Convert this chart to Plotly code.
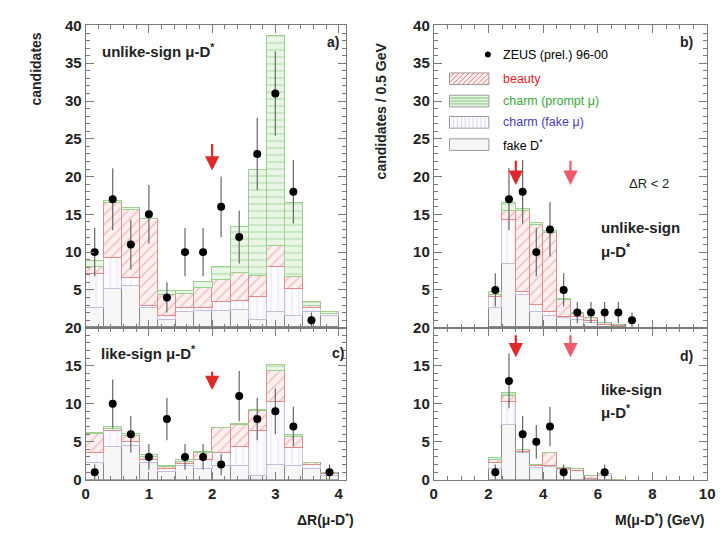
import plotly.graph_objects as go

W, H = 726, 542

# ---------------- data ----------------
# Delta R bins (width pi/11)
dr_centers = [0.143, 0.428, 0.714, 1.000, 1.285, 1.571, 1.857, 2.142, 2.428, 2.713, 2.999, 3.284, 3.570, 3.855]
dr_width = 0.2856
# M(mu-D*) bins (0.5 GeV)
m_centers = [2.25, 2.75, 3.25, 3.75, 4.25, 4.75, 5.25, 5.75, 6.25, 6.75]
m_width = 0.5

# panel a) unlike-sign, Delta R
a_fakeD     = [2.5, 5.0, 5.5, 2.5, 1.0, 2.0, 2.2, 2.2, 2.3, 1.0, 2.0, 1.5, 2.0, 1.5]
a_charmfake = [4.5, 4.2, 1.0, 0.3, 0.5, 0.6, 0.3, 1.2, 1.2, 3.0, 6.0, 3.5, 0.6, 0.3]
a_beauty    = [1.0, 7.2, 9.0, 11.5, 2.8, 1.8, 2.7, 2.8, 3.7, 2.8, 2.8, 1.7, 0.2, 0.0]
a_prompt    = [0.8, 0.3, 0.3, 0.0, 0.5, 0.4, 0.8, 1.8, 6.1, 14.0, 27.7, 9.8, 0.5, 0.2]
a_data_x    = [0.143, 0.428, 0.714, 1.000, 1.285, 1.571, 1.857, 2.142, 2.428, 2.713, 2.999, 3.284, 3.570]
a_data      = [10, 17, 11, 15, 4, 10, 10, 16, 12, 23, 31, 18, 1]
a_err       = [3.2, 4.1, 3.3, 3.9, 2.0, 3.2, 3.2, 4.0, 3.5, 4.8, 5.6, 4.2, 1.0]

# panel c) like-sign, Delta R
c_fakeD     = [2.2, 4.4, 4.5, 2.2, 1.0, 1.8, 1.5, 1.8, 1.8, 0.5, 2.0, 1.8, 1.5, 0.6]
c_charmfake = [1.3, 2.0, 0.5, 0.5, 0.4, 0.3, 1.2, 1.8, 2.5, 6.0, 8.3, 2.4, 0.5, 0.2]
c_beauty    = [2.5, 0.3, 0.8, 0.4, 0.3, 0.3, 0.8, 3.2, 3.0, 2.6, 4.1, 1.5, 0.2, 0.1]
c_prompt    = [0.2, 0.3, 0.2, 0.2, 0.1, 0.2, 0.2, 0.1, 0.1, 0.1, 0.8, 0.2, 0.1, 0.0]
c_data_x    = [0.143, 0.428, 0.714, 1.000, 1.285, 1.571, 1.857, 2.142, 2.428, 2.713, 2.999, 3.284, 3.855]
c_data      = [1, 10, 6, 3, 8, 3, 3, 2, 11, 8, 9, 7, 1]
c_err       = [1.0, 3.2, 2.4, 1.7, 2.8, 1.7, 1.7, 1.4, 3.3, 2.8, 3.0, 2.6, 1.0]

# panel b) unlike-sign, M
b_fakeD     = [2.5, 8.4, 4.3, 2.0, 1.5, 1.2, 1.0, 0.6, 0.3, 0.2]
b_charmfake = [1.5, 5.8, 0.3, 1.0, 0.5, 0.2, 0.3, 0.2, 0.0, 0.0]
b_beauty    = [0.3, 1.2, 10.8, 10.5, 10.5, 2.2, 0.5, 0.4, 0.2, 0.1]
b_prompt    = [0.3, 1.1, 0.2, 0.3, 0.3, 0.1, 0.1, 0.0, 0.0, 0.0]
b_data_x    = [2.25, 2.75, 3.25, 3.75, 4.25, 4.75, 5.25, 5.75, 6.25, 6.75, 7.25]
b_data      = [5, 17, 18, 10, 13, 5, 2, 2, 2, 2, 1]
b_err       = [2.2, 4.1, 4.2, 3.2, 3.6, 2.2, 1.4, 1.4, 1.4, 1.4, 1.0]

# panel d) like-sign, M
d_fakeD     = [1.5, 7.3, 3.5, 1.6, 1.7, 1.3, 1.2, 0.2, 0.6, 0.0]
d_charmfake = [0.8, 3.0, 0.2, 0.2, 0.2, 0.1, 0.0, 0.0, 0.2, 0.0]
d_beauty    = [0.4, 0.8, 0.2, 0.2, 1.6, 0.2, 0.3, 0.4, 0.0, 0.0]
d_prompt    = [0.2, 0.4, 0.0, 0.0, 0.1, 0.0, 0.0, 0.0, 0.0, 0.0]
d_data_x    = [2.25, 2.75, 3.25, 3.75, 4.25, 4.75, 6.25]
d_data      = [1, 13, 6, 5, 7, 1, 1]
d_err       = [1.0, 3.6, 2.4, 2.2, 2.6, 1.0, 1.0]

arrows_dr = [2.0]
arrows_m = [3.0, 5.0]

legend_labels = ["ZEUS (prel.) 96-00", "beauty", "charm (prompt \u03bc)", "charm (fake \u03bc)", "fake D<sup>*</sup>"]

# ---------------- styles ----------------
FONT = "Liberation Sans, Arial, sans-serif"
STY = {
    "fakeD":     dict(bg="rgba(246,246,246,1)", fg="rgba(210,210,210,1)", line="#8a8a8a", shape=""),
    "charmfake": dict(bg="rgba(252,251,255,1)", fg="rgba(218,212,238,1)", line="#c4bedd", shape="|"),
    "beauty":    dict(bg="rgba(253,240,240,1)", fg="rgba(232,125,125,1)", line="#e08a8a", shape="/"),
    "prompt":    dict(bg="rgba(234,246,230,1)", fg="rgba(125,192,115,1)", line="#9ccf90", shape="-"),
}
LEG_COL = ["black", "#e8202a", "#3aa83a", "#4a3ab8", "black"]

def px(x):
    return x / W

def py(y):
    return 1 - y / H

fig = go.Figure()

def add_stack(xref, yref, centers, width, comps):
    for name, vals in comps:
        s = STY[name]
        fig.add_trace(go.Bar(
            x=centers, y=vals, width=width, xaxis=xref, yaxis=yref,
            marker=dict(color=s["bg"], line=dict(color=s["line"], width=1),
                        pattern=dict(shape=s["shape"], fgcolor=s["fg"], size=7, solidity=0.18)),
            showlegend=False, hoverinfo="skip"))

def add_points(xref, yref, xs, ys, err):
    fig.add_trace(go.Scatter(
        x=xs, y=ys, xaxis=xref, yaxis=yref, mode="markers",
        marker=dict(color="black", size=8),
        error_y=dict(type="data", array=err, color="#666", thickness=1.2, width=0),
        showlegend=False, hoverinfo="skip"))

add_stack("x", "y", dr_centers, dr_width,
          [("fakeD", a_fakeD), ("charmfake", a_charmfake), ("beauty", a_beauty), ("prompt", a_prompt)])
add_stack("x2", "y2", m_centers, m_width,
          [("fakeD", b_fakeD), ("charmfake", b_charmfake), ("beauty", b_beauty), ("prompt", b_prompt)])
add_stack("x3", "y3", dr_centers, dr_width,
          [("fakeD", c_fakeD), ("charmfake", c_charmfake), ("beauty", c_beauty), ("prompt", c_prompt)])
add_stack("x4", "y4", m_centers, m_width,
          [("fakeD", d_fakeD), ("charmfake", d_charmfake), ("beauty", d_beauty), ("prompt", d_prompt)])

add_points("x", "y", a_data_x, a_data, a_err)
add_points("x2", "y2", b_data_x, b_data, b_err)
add_points("x3", "y3", c_data_x, c_data, c_err)
add_points("x4", "y4", d_data_x, d_data, d_err)

# ---------------- axes ----------------
LEFT = [px(83), px(348)]
RIGHT = [px(437), px(715)]
TOP = [py(329), py(17)]
BOT = [py(486), py(329)]
AXC = "#7a7a7a"
tickfont = dict(family=FONT, size=15, color="#222", weight="bold")

def xax(domain, rng, dtick, minor, anchor, labels):
    return dict(domain=domain, range=rng, anchor=anchor, showgrid=False, zeroline=False,
                showline=True, linecolor=AXC, linewidth=1, mirror="ticks",
                ticks="inside", ticklen=8, tickcolor=AXC, dtick=dtick, tick0=0,
                minor=dict(ticks="inside", ticklen=4, dtick=minor, tickcolor=AXC),
                showticklabels=labels, tickfont=tickfont, fixedrange=True,
                ticklabeloverflow="allow")

def yax(domain, rng, tickvals, anchor):
    return dict(domain=domain, range=rng, anchor=anchor, showgrid=False, zeroline=False,
                showline=True, linecolor=AXC, linewidth=1, mirror="ticks",
                ticks="inside", ticklen=8, tickcolor=AXC, tickvals=tickvals,
                ticktext=[str(v) for v in tickvals],
                minor=dict(ticks="inside", ticklen=4, dtick=1, tickcolor=AXC),
                tickfont=tickfont, fixedrange=True, ticklabeloverflow="allow")

fig.update_layout(
    width=W, height=H, margin=dict(l=0, r=0, t=0, b=0),
    paper_bgcolor="white", plot_bgcolor="white",
    barmode="stack", bargap=0, showlegend=False,
    xaxis=xax(LEFT, [0, 4.12], 1, 0.2, "y", False),
    yaxis=yax(TOP, [0, 40], [5, 10, 15, 20, 25, 30, 35, 40], "x"),
    xaxis2=xax(RIGHT, [0, 10], 2, 0.5, "y2", False),
    yaxis2=yax(TOP, [0, 40], [5, 10, 15, 20, 25, 30, 35, 40], "x2"),
    xaxis3=xax(LEFT, [0, 4.12], 1, 0.2, "y3", True),
    yaxis3=yax(BOT, [0, 20], [0, 5, 10, 15, 20], "x3"),
    xaxis4=xax(RIGHT, [0, 10], 2, 0.5, "y4", True),
    yaxis4=yax(BOT, [0, 20], [0, 5, 10, 15, 20], "x4"),
)

ann = []

def text(x, y, s, size=14, color="#222", bold=True, xanchor="left", angle=0):
    ann.append(dict(x=px(x), y=py(y), xref="paper", yref="paper", text=s, showarrow=False,
                    xanchor=xanchor, yanchor="middle", textangle=angle,
                    font=dict(family=FONT, size=size, color=color, weight="bold" if bold else "normal")))

# panel labels
text(98, 43, "unlike-sign \u03bc-D<sup>*</sup>", 15)
text(343, 34, "a)", 14, xanchor="right")
text(703, 34, "b)", 14, xanchor="right")
text(97, 355, "like-sign \u03bc-D<sup>*</sup>", 15)
text(348, 355, "c)", 14, xanchor="right")
text(703, 358, "d)", 14, xanchor="right")
text(633, 180, "\u0394R < 2", 13, bold=False)
text(605, 226, "unlike-sign", 15)
text(605, 249, "\u03bc-D<sup>*</sup>", 15)
text(605, 393, "like-sign", 15)
text(605, 416, "\u03bc-D<sup>*</sup>", 15)

# axis titles
text(33, 62, "candidates", 14, angle=-90, xanchor="center")
text(383, 105, "candidates / 0.5 GeV", 14, angle=-90, xanchor="center")
text(358, 527, "\u0394R(\u03bc-D<sup>*</sup>)", 14, xanchor="right")
text(714, 527, "M(\u03bc-D<sup>*</sup>) (GeV)", 14, xanchor="right")

# legend text
leg_rows = [47, 72, 95, 117, 140]
for lab, yy, col in zip(legend_labels, leg_rows, LEG_COL):
    text(505, yy, lab, 12.5, color=col, bold=False)

# arrows (in data coordinates)
for xa in arrows_dr:
    ann.append(dict(x=xa, y=20.8, ax=xa, ay=24.5, xref="x", yref="y", axref="x", ayref="y",
                    showarrow=True, arrowhead=2, arrowsize=1.3, arrowwidth=2.2, arrowcolor="#e02828", text=""))
    ann.append(dict(x=xa, y=11.8, ax=xa, ay=14.4, xref="x3", yref="y3", axref="x3", ayref="y3",
                    showarrow=True, arrowhead=2, arrowsize=1.3, arrowwidth=2.2, arrowcolor="#e02828", text=""))
for xa, col in zip(arrows_m, ["#e02828", "#ee5a6a"]):
    ann.append(dict(x=xa, y=18.9, ax=xa, ay=22.3, xref="x2", yref="y2", axref="x2", ayref="y2",
                    showarrow=True, arrowhead=2, arrowsize=1.3, arrowwidth=2.2, arrowcolor=col, text=""))
    ann.append(dict(x=xa, y=16.1, ax=xa, ay=19.2, xref="x4", yref="y4", axref="x4", ayref="y4",
                    showarrow=True, arrowhead=2, arrowsize=1.3, arrowwidth=2.2, arrowcolor=col, text=""))

fig.update_layout(annotations=ann)

# ---------------- manual legend swatches ----------------
shapes = []

def rect(x0, y0, x1, y1, fill, line):
    shapes.append(dict(type="rect", xref="paper", yref="paper", x0=px(x0), x1=px(x1),
                       y0=py(y1), y1=py(y0), fillcolor=fill, line=dict(color=line, width=1)))

def seg(x0, y0, x1, y1, color):
    shapes.append(dict(type="line", xref="paper", yref="paper", x0=px(x0), y0=py(y0),
                       x1=px(x1), y1=py(y1), line=dict(color=color, width=1)))

bx0, bx1 = 453, 493
for key, yy in zip(["beauty", "prompt", "charmfake", "fakeD"], leg_rows[1:]):
    s = STY[key]
    y0, y1 = yy - 6, yy + 6
    rect(bx0, y0, bx1, y1, s["bg"], "#9a9a9a")
    if key == "beauty":
        k = bx0 - 12
        while k < bx1:
            xa, ya = k, y1
            xb, yb = k + 12, y0
            if xa < bx0:
                ya = y1 - (bx0 - xa); xa = bx0
            if xb > bx1:
                yb = y0 + (xb - bx1); xb = bx1
            if xb > xa:
                seg(xa, ya, xb, yb, s["fg"])
            k += 5
    elif key == "prompt":
        for yl in range(y0 + 3, y1, 3):
            seg(bx0 + 1, yl, bx1 - 1, yl, s["fg"])
    elif key == "charmfake":
        for xl in range(bx0 + 4, bx1, 4):
            seg(xl, y0 + 1, xl, y1 - 1, s["fg"])

shapes.append(dict(type="circle", xref="paper", yref="paper",
                   x0=px(489), x1=px(495), y0=py(50), y1=py(44),
                   fillcolor="black", line=dict(color="black", width=0)))
fig.update_layout(shapes=shapes)

fig.write_html("out.html", config={"displayModeBar": False},
               post_script="document.body.style.margin='0';document.body.style.overflow='hidden';")
